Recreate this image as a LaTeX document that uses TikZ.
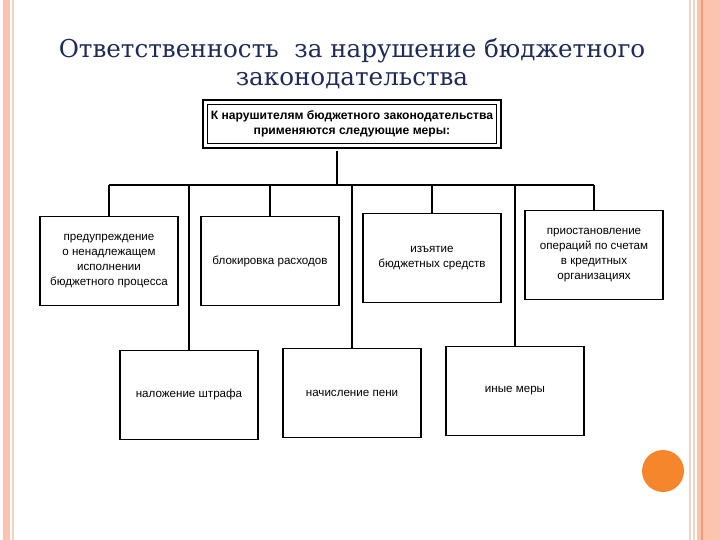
\documentclass[tikz,border=0pt]{standalone}
\usepackage{fontspec}
\setmainfont{DejaVu Serif}
\setsansfont{Liberation Sans}
\usepackage{tikz}
\definecolor{titleblue}{HTML}{1F2B57}
\definecolor{stripe}{HTML}{FAC4AE}
\definecolor{stripeline}{HTML}{F3D3C4}
\definecolor{stripedark}{HTML}{F09A7C}
\definecolor{dot}{HTML}{F5862C}

\begin{document}
\begin{tikzpicture}[x=0.02cm,y=-0.02cm]
    \tikzstyle{every node} = [font=\sffamily\fontsize{6.6}{8.4}\selectfont]
    \tikzstyle{block} = [draw, rectangle, line width=0.6pt, minimum width=138*0.02cm, minimum height=89*0.02cm, align=center, inner sep=2pt]
    \tikzstyle{rules} = [draw, rectangle, line width=0.6pt, minimum width=289*0.02cm, minimum height=39*0.02cm, align=center, inner sep=1pt, font=\sffamily\bfseries\fontsize{6.9}{8.8}\selectfont]
    \tikzstyle{link} = [line width=0.6pt]
    \useasboundingbox (0,0) rectangle (720,540);
    % page frame
    \fill[stripe] (3,0) rectangle (10,540);
    \draw[stripeline,line width=0.8pt] (13,0) -- (13,540);
    \fill[stripe] (697,0) rectangle (720,540);
    \draw[stripeline,line width=1pt] (690,0) -- (690,540);
    \draw[stripeline,line width=1pt] (694,0) -- (694,540);
    \draw[stripedark,line width=0.6pt] (702,0) -- (702,540);
    \fill[dot] (663,471) circle (21);
    % title
    \node[font=\fontsize{14}{16}\selectfont, text=titleblue, align=center] (title) at (352,64)
      {Ответственность \ за нарушение бюджетного\\законодательства};
    % place nodes
    \node[rules] (measures) at (352,124) {К нарушителям бюджетного законодательства\\применяются следующие меры:};
    \draw[line width=1.5pt] ([shift={(-4,-4)}]measures.north west) rectangle ([shift={(4,4)}]measures.south east);
    \node[block] (warning) at (109,261) {предупреждение\\о ненадлежащем\\исполнении\\бюджетного процесса};
    \node[block] (blocking) at (270,261) {блокировка расходов};
    \node[block] (seizure) at (432,258) {изъятие\\бюджетных средств};
    \node[block] (suspension) at (594,255) {приостановление\\операций по счетам\\в кредитных\\организациях};
    \node[block] (fine) at (189,395) {наложение штрафа};
    \node[block] (penalty) at (352,393) {начисление пени};
    \node[block] (other) at (515,391) {иные меры};
    \coordinate (bus) at (337,185);
    % Connections
    \draw[link] ([yshift=-4]measures.south -| bus) -- (bus);
    \draw[link] (warning.north |- bus) -- (suspension.north |- bus);
    \foreach \target in {warning,seizure,suspension}
      \draw[link] (\target.north |- bus) -- (\target.north);
    \foreach \target in {fine,penalty,other}
      \draw[link] (\target.north |- bus) -- (\target.north);
    \draw[link] (blocking.north |- bus) -- (blocking.north);
\end{tikzpicture}
\end{document}
